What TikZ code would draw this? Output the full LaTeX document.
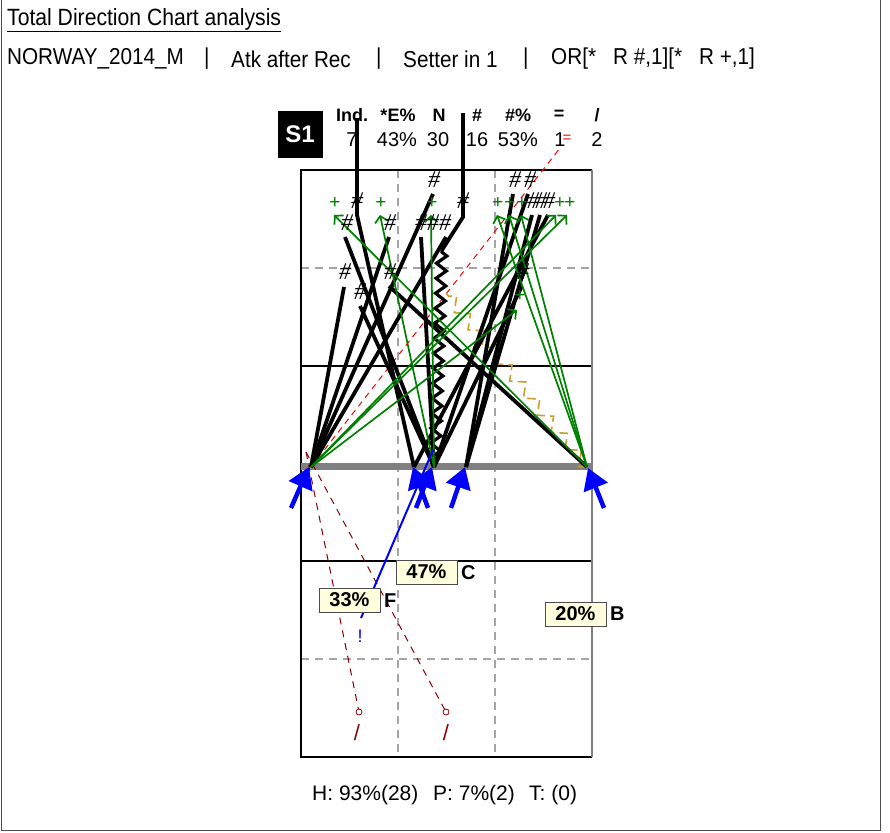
\documentclass[tikz,border=0pt]{standalone}
\usepackage{fontspec}
\setmainfont{Liberation Sans}
\newfontfamily\hdrfont[FakeStretch=0.9]{Liberation Sans}
\newfontfamily\serifmark{Liberation Serif}
\usetikzlibrary{arrows.meta,decorations.pathmorphing}
\definecolor{posgreen}{RGB}{0,128,0}
\definecolor{errred}{RGB}{140,0,0}
\definecolor{goldline}{RGB}{200,160,50}
\definecolor{lblfill}{RGB}{255,255,221}
\definecolor{netgray}{RGB}{128,128,128}
\definecolor{gridgray}{RGB}{165,165,165}
\newcommand{\fsz}[1]{\fontsize{#1}{#1}\selectfont}
\begin{document}
\begin{tikzpicture}[x=1pt,y=-1pt,
  killline/.style={line width=3.8pt, black},
  posarrow/.style={line width=1.7pt, posgreen, -{Straight Barb[length=6pt,width=13pt]}},
  hashm/.style={font=\serifmark\itshape\fsz{24}, inner sep=0pt, text=black},
  plusm/.style={font=\fsz{19}, inner sep=0pt, text=posgreen},
  bluearr/.style={line width=4.5pt, blue, -{Triangle[length=21pt,width=25pt]}},
  lbl/.style={draw=gray!60!black, fill=lblfill, line width=1pt, font=\bfseries\fsz{20}, minimum width=61pt, minimum height=24pt, inner sep=0pt},
  lettr/.style={font=\bfseries\fsz{20}, inner sep=0pt, anchor=west},
  thead/.style={font=\bfseries\fsz{18}, inner sep=0pt},
  tval/.style={font=\fsz{20}, inner sep=0pt},
  hdr/.style={font=\hdrfont\fsz{23}, inner sep=0pt, anchor=west},
  foot/.style={font=\fsz{21}, inner sep=0pt, anchor=west},
  griddash/.style={gridgray, line width=1.2pt, dash pattern=on 8pt off 6pt},
  errdash/.style={errred, line width=1pt, dash pattern=on 7pt off 6pt}
]
\useasboundingbox (0,0) rectangle (890,832);
% frame
\draw[gray!60!black, line width=1pt] (1,0) -- (1,830) -- (880,830) -- (880,0);

% header text
\node[hdr, font=\hdrfont\fsz{23.5}] (title) at (7,20) {\underline{Total Direction Chart analysis}};
\node[hdr] (team) at (7,59) {NORWAY\_2014\_M};
\node[hdr] (bar1) at (204,59) {|};
\node[hdr] (atk) at (231,59) {Atk after Rec};
\node[hdr] (bar2) at (376,59) {|};
\node[hdr] (setter) at (403,59) {Setter in 1};
\node[hdr] (bar3) at (523,59) {|};
\node[hdr] (filt) at (551,59) {OR[*\hspace{17pt}R \#,1][*\hspace{17pt}R +,1]};

% S1 box and table
\node[fill=black, minimum width=45pt, minimum height=47pt, inner sep=0pt, text=white, font=\bfseries\fsz{24}] (S1) at (300,134) {S1};
\node[thead] (hInd) at (352,115) {Ind.};
\node[thead] (hE) at (398,115) {*E\%};
\node[thead] (hN) at (439,115) {N};
\node[thead] (hH) at (477,115) {\#};
\node[thead] (hHp) at (518,115) {\#\%};
\node[thead] (hEq) at (559,115) {=};
\node[thead] (hSl) at (597,115) {/};
\node[tval] (vInd) at (352,140) {7};
\node[tval] (vE) at (397,140) {43\%};
\node[tval] (vN) at (438,140) {30};
\node[tval] (vH) at (477,140) {16};
\node[tval] (vHp) at (518,140) {53\%};
\node[tval] (vEq) at (560,140) {1};
\node[tval] (vSl) at (597,140) {2};

% court grid
\draw[griddash] (398,170) -- (398,757);
\draw[griddash] (495,170) -- (495,757);
\draw[griddash] (301,268) -- (592,268);
\draw[griddash] (301,659) -- (592,659);
\draw[black, line width=1.1pt] (301,366) -- (592,366);
\draw[black, line width=1.1pt] (301,561) -- (592,561);
\draw[black, line width=1.1pt] (592,170) -- (301,170) -- (301,757) -- (592,757);
\draw[netgray, line width=2.5pt] (592,170) -- (592,757);
\draw[netgray, line width=7pt] (301,466) -- (592,466);

% origins
\coordinate (O1) at (311,467);
\coordinate (O2) at (414,467);
\coordinate (O3) at (434,467);
\coordinate (O4) at (466,467);
\coordinate (O5) at (587,467);

% error / other trajectories
\coordinate (d0) at (306,452);
\coordinate (d1) at (359,712);
\coordinate (d2) at (446,712);
\draw[errdash] (d0) -- (d1);
\draw[errdash] (d0) -- (d2);
\node[draw=errred, circle, minimum size=6pt, inner sep=0pt, line width=0.8pt, fill=white] (c1) at (d1) {};
\node[draw=errred, circle, minimum size=6pt, inner sep=0pt, line width=0.8pt, fill=white] (c2) at (d2) {};
\node[font=\fsz{22}, text=errred, inner sep=0pt] (sl1) at (357,733) {/};
\node[font=\fsz{22}, text=errred, inner sep=0pt] (sl2) at (446,733) {/};

\coordinate (r1) at (560,148);
\draw[red, line width=1pt, dash pattern=on 6pt off 5pt] (O1) -- (r1);
\node[font=\fsz{15}, text=red, inner sep=0pt] (req) at (567,139) {=};

\coordinate (g1) at (446,293);
\draw[goldline, line width=1.6pt, dash pattern=on 9pt off 5pt, decorate, decoration={zigzag, amplitude=6pt, segment length=22pt}] (O5) -- (g1);

% kill lines
\coordinate (k1) at (433,194);
\coordinate (k2) at (513,194);
\coordinate (k3) at (528,194);
\coordinate (k6) at (345,237);
\coordinate (k7) at (389,237);
\coordinate (k8) at (421,237);
\coordinate (k9) at (446,237);
\coordinate (k11) at (344,287);
\coordinate (k12) at (389,286);
\coordinate (k13) at (360,306);
\coordinate (k14) at (522,286);
\coordinate (k15) at (532,215);
\coordinate (k16) at (540,215);
\coordinate (k17) at (548,215);
\coordinate (k4a) at (357,215);
\coordinate (k4b) at (357,118);
\coordinate (zz0) at (435,462);
\coordinate (zz1) at (442,250);
\coordinate (k5a) at (463,217);
\coordinate (k5b) at (463,113);

\draw[killline] (O1) -- (k1);
\draw[killline] (O4) -- (k2);
\draw[killline] (O3) -- (k3);
\draw[killline] (O3) -- (k6);
\draw[killline] (O1) -- (k7);
\draw[killline] (O3) -- (k8);
\draw[killline] (O1) -- (k9);
\draw[killline] (O1) -- (k11);
\draw[killline] (O5) -- (k12);
\draw[killline] (O3) -- (k13);
\draw[killline] (O3) -- (k14);
\draw[killline] (O4) -- (k15);
\draw[killline] (O4) -- (k16);
\draw[killline] (O2) -- (k17);
\draw[killline] (O2) -- (k4a) -- (k4b);
\draw[black, line width=3.2pt, decorate, decoration={zigzag, amplitude=5pt, segment length=15pt}] (zz0) -- (zz1);
\draw[killline] (zz1) -- (k5a) -- (k5b);

% positive arrows
\coordinate (t1) at (334,215);
\coordinate (t2) at (380,215);
\coordinate (t3) at (431,215);
\coordinate (t4) at (497,215);
\coordinate (t5) at (509,215);
\coordinate (t6) at (521,215);
\coordinate (t7) at (556,215);
\coordinate (t8) at (567,215);
\coordinate (t9) at (517,310);
\draw[posarrow] (O5) -- (t1);
\draw[posarrow] (O3) -- (t2);
\draw[posarrow] (O3) -- (t3);
\draw[posarrow] (O5) -- (t4);
\draw[posarrow] (O5) -- (t5);
\draw[posarrow] (O5) -- (t6);
\draw[posarrow] (O1) -- (t7);
\draw[posarrow] (O1) -- (t8);
\draw[posarrow] (O1) -- (t9);

% markers
\node[hashm] (h1) at (434,180) {\#};
\node[hashm] (h2) at (515,180) {\#};
\node[hashm] (h3) at (530,180) {\#};
\node[hashm] (h4) at (357,201) {\#};
\node[hashm] (h5) at (463,201) {\#};
\node[hashm] (h6) at (347,223) {\#};
\node[hashm] (h7) at (390,223) {\#};
\node[hashm] (h8) at (421,223) {\#};
\node[hashm] (h9) at (433,223) {\#};
\node[hashm] (h10) at (445,223) {\#};
\node[hashm] (h11) at (345,272) {\#};
\node[hashm] (h12) at (390,272) {\#};
\node[hashm] (h13) at (360,292) {\#};
\node[hashm] (h14) at (523,272) {\#};
\node[hashm] (h15) at (533,201) {\#};
\node[hashm] (h16) at (541,201) {\#};
\node[hashm] (h17) at (549,201) {\#};
\node[plusm] (p1) at (335,203) {+};
\node[plusm] (p2) at (381,203) {+};
\node[plusm] (p3) at (432,203) {+};
\node[plusm] (p4) at (498,203) {+};
\node[plusm] (p5) at (510,203) {+};
\node[plusm] (p6) at (522,203) {+};
\node[plusm] (p7) at (560,203) {+};
\node[plusm] (p8) at (570,203) {+};
\node[plusm] (p9) at (520,296) {+};

% blue line and arrows
\coordinate (bl1) at (433,450);
\coordinate (bl2) at (361,618);
\draw[blue, line width=2pt] (bl1) -- (bl2);
\node[font=\fsz{18}, text=blue, inner sep=0pt] (excl) at (360,636) {!};
\coordinate (a1s) at (291,508); \coordinate (a1e) at (309,467);
\coordinate (a2s) at (428,508); \coordinate (a2e) at (413,467);
\coordinate (a3s) at (416,508); \coordinate (a3e) at (432,467);
\coordinate (a4s) at (451,508); \coordinate (a4e) at (465,467);
\coordinate (a5s) at (604,508); \coordinate (a5e) at (588,468);
\draw[bluearr] (a1s) -- (a1e);
\draw[bluearr] (a2s) -- (a2e);
\draw[bluearr] (a3s) -- (a3e);
\draw[bluearr] (a4s) -- (a4e);
\draw[bluearr] (a5s) -- (a5e);

% zone labels
\node[lbl] (L47) at (426.5,572) {47\%};
\node[lettr] (LC) at (461,573) {C};
\node[lbl] (L33) at (349.5,600) {33\%};
\node[lettr] (LF) at (384,601) {F};
\node[lbl] (L20) at (575.5,614) {20\%};
\node[lettr] (LB) at (610,614) {B};

% footer
\node[foot] (fH) at (312,795) {H: 93\%(28)};
\node[foot] (fP) at (433,795) {P: 7\%(2)};
\node[foot] (fT) at (529,795) {T: (0)};
\end{tikzpicture}
\end{document}
